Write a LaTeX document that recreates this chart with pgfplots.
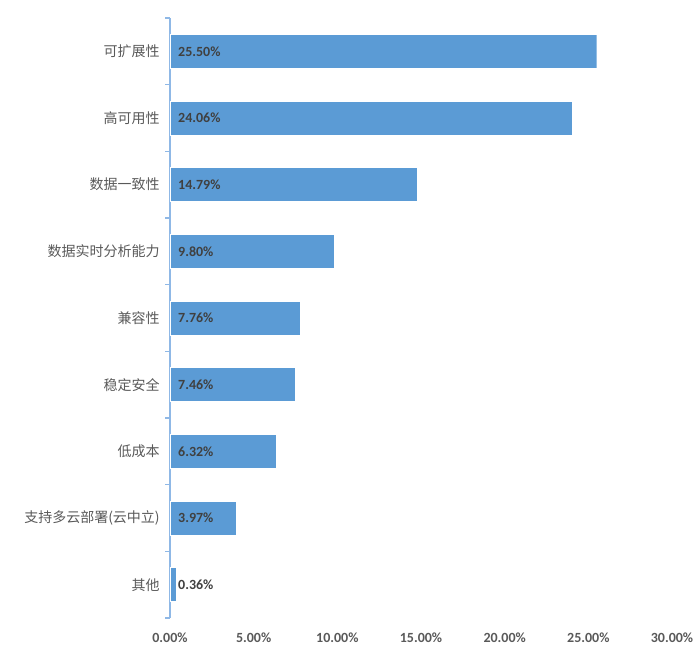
\documentclass[border=0pt]{standalone}
\usepackage{pgfplots}
\pgfplotsset{compat=1.18}
\usepackage{fontspec}
\setmainfont{Carlito}
\newfontfamily\cjk{Noto Sans CJK SC}
\definecolor{barblue}{HTML}{5B9BD5}
\definecolor{axisblue}{HTML}{8FB8E6}
\definecolor{lblgray}{HTML}{404040}
\definecolor{tickgray}{HTML}{595959}
\begin{document}
\begin{tikzpicture}
\path[use as bounding box] (0pt,0pt) rectangle (525pt,493.5pt);
\begin{axis}[
    at={(127.5pt,30pt)}, anchor=south west,
    scale only axis,
    width=376.5pt, height=450pt,
    xmin=0, xmax=30,
    ymin=-0.5, ymax=8.5,
    y dir=reverse,
    xtick={0,5,...,30},
    xticklabel={\pgfmathprintnumber[fixed,fixed zerofill,precision=2]{\tick}\%},
    /pgf/number format/assume math mode=true,
    ytick={0,...,8},
    yticklabels={可扩展性,高可用性,数据一致性,数据实时分析能力,兼容性,稳定安全,低成本,支持多云部署(云中立),其他},
    minor ytick={-0.5,0.5,...,8.5},
    axis x line*=bottom,
    axis y line*=left,
    x axis line style={draw=none},
    y axis line style={draw=axisblue, line width=0.9pt, -},
    major tick length=0pt,
    minor tick length=3.5pt,
    tick align=outside,
    xtick style={draw=none},
    ytick style={draw=axisblue, line width=0.9pt},
    xticklabel style={font=\fontsize{10.5}{12}\selectfont\bfseries, text=tickgray, inner sep=0pt, anchor=center, yshift=-14.5pt},
    yticklabel style={font=\cjk\fontsize{10.5}{12}\selectfont, text=tickgray, inner sep=0pt, anchor=east, xshift=-7.5pt},
]
\addplot[
    xbar, bar width=25.5pt, fill=barblue, draw=white, line width=0.3pt,
    point meta=x,
    nodes near coords={\pgfmathprintnumber[fixed,fixed zerofill,precision=2]{\pgfplotspointmeta}\%},
    nodes near coords style={font=\fontsize{10.5}{12}\selectfont\bfseries, text=lblgray, anchor=west, inner sep=0pt,
        shift={(axis direction cs:-\pgfkeysvalueof{/data point/x},0)}, xshift=6pt},
] coordinates {
    (25.50,0) (24.06,1) (14.79,2) (9.80,3) (7.76,4) (7.46,5) (6.32,6) (3.97,7) (0.36,8)
};
\end{axis}
\end{tikzpicture}
\end{document}
